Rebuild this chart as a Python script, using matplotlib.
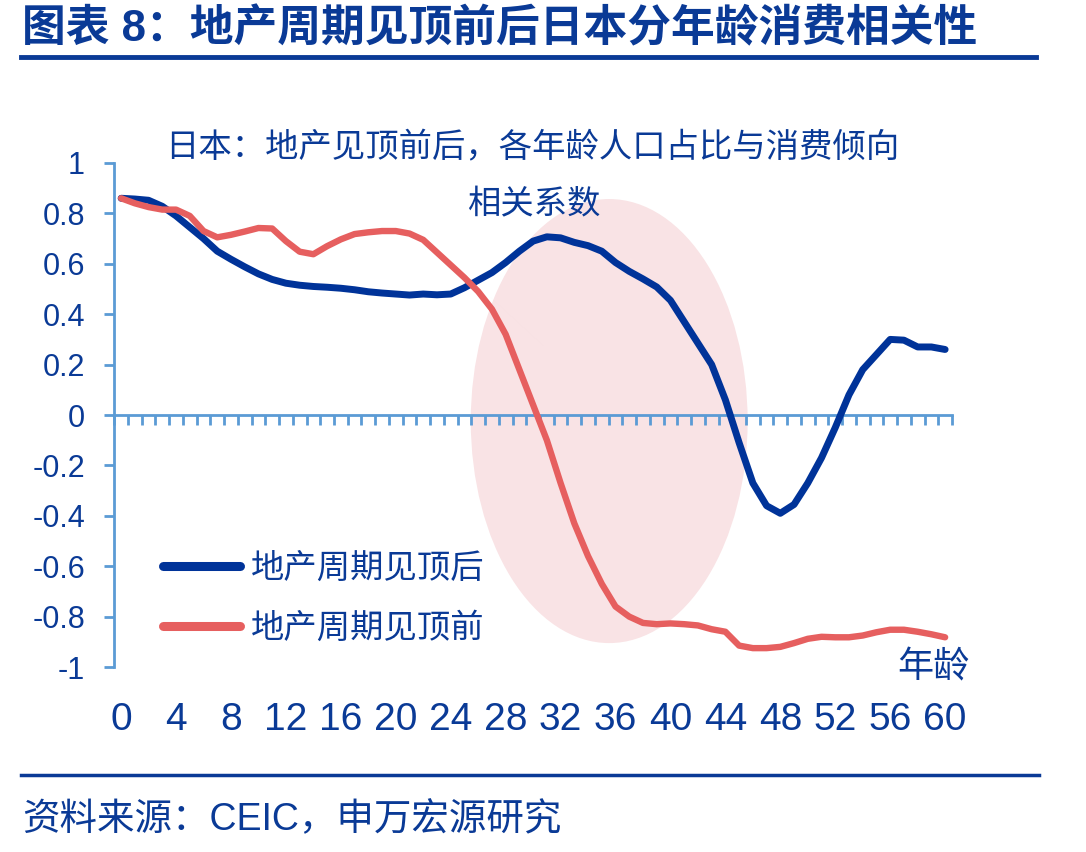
import numpy as np
import matplotlib
matplotlib.use("Agg")
import matplotlib.pyplot as plt
from matplotlib.patches import Ellipse
from matplotlib.lines import Line2D

plt.rcParams['font.family'] = ['Liberation Sans', 'Noto Sans CJK SC']

# ages 0..60
ages = np.arange(0, 61)

# 地产周期见顶后 (blue)
after_peak = [0.86, 0.857, 0.852, 0.828, 0.79, 0.745, 0.70, 0.65, 0.618, 0.588,
              0.56, 0.538, 0.523, 0.515, 0.51, 0.507, 0.503, 0.497, 0.489, 0.484,
              0.48, 0.476, 0.48, 0.477, 0.48, 0.505, 0.535, 0.565, 0.605, 0.65,
              0.69, 0.707, 0.703, 0.685, 0.672, 0.65, 0.605, 0.57, 0.54, 0.508,
              0.455, 0.37, 0.285, 0.20, 0.06, -0.11, -0.27, -0.36, -0.39, -0.355,
              -0.27, -0.17, -0.05, 0.08, 0.18, 0.24, 0.30, 0.297, 0.27, 0.27, 0.26]

# 地产周期见顶前 (red)
before_peak = [0.86, 0.84, 0.825, 0.815, 0.815, 0.79, 0.73, 0.705, 0.715, 0.728,
               0.742, 0.74, 0.69, 0.648, 0.638, 0.67, 0.697, 0.718, 0.725, 0.73,
               0.73, 0.72, 0.695, 0.645, 0.595, 0.545, 0.49, 0.42, 0.32, 0.18,
               0.04, -0.10, -0.27, -0.43, -0.56, -0.67, -0.76, -0.80, -0.825, -0.83,
               -0.827, -0.83, -0.835, -0.85, -0.86, -0.915, -0.925, -0.925, -0.92, -0.905,
               -0.888, -0.88, -0.882, -0.882, -0.875, -0.862, -0.852, -0.852, -0.86, -0.87, -0.882]

x_labels = ages[::4]
y_ticks = [-1, -0.8, -0.6, -0.4, -0.2, 0, 0.2, 0.4, 0.6, 0.8, 1]
y_labels = ['-1', '-0.8', '-0.6', '-0.4', '-0.2', '0', '0.2', '0.4', '0.6', '0.8', '1']

text_blue = '#0A3A96'
line_blue = '#003399'
line_red = '#E65F5F'
axis_blue = '#5B9BD5'

fig = plt.figure(figsize=(10.86, 8.52), dpi=100)
ax = fig.add_axes([0.1052, 0.2171, 0.7714, 0.5916])

# highlighted region
ell = Ellipse((35.54, -0.024), 20.16, 1.762, facecolor='#F9E3E5', edgecolor='none', zorder=1)
ax.add_patch(ell)

ax.plot(ages, after_peak, color=line_blue, lw=5, solid_capstyle='round',
        solid_joinstyle='round', zorder=3, label='地产周期见顶后')
ax.plot(ages, before_peak, color=line_red, lw=4.6, solid_capstyle='round',
        solid_joinstyle='round', zorder=3, label='地产周期见顶前')

ax.set_xlim(-0.5, 60.5)
ax.set_ylim(-1, 1)

for s in ['top', 'right']:
    ax.spines[s].set_visible(False)
ax.spines['left'].set_color(axis_blue)
ax.spines['left'].set_linewidth(2)
ax.spines['bottom'].set_position(('data', 0))
ax.spines['bottom'].set_color(axis_blue)
ax.spines['bottom'].set_linewidth(2)
ax.spines['bottom'].set_zorder(2)

ax.set_yticks(y_ticks)
ax.set_yticklabels(y_labels)
ax.tick_params(axis='y', direction='out', length=7, width=2, color=axis_blue,
               labelsize=22, labelcolor=text_blue, pad=14)

# minor ticks between categories on the zero line, no labels
ax.set_xticks([])
ax.set_xticks(np.arange(-0.5, 61, 1), minor=True)
ax.tick_params(axis='x', which='minor', direction='out', length=7, width=2, color=axis_blue)

# labels at the bottom of the plot area
sec = ax.secondary_xaxis('bottom')
sec.set_xticks(x_labels)
sec.set_xticklabels([str(a) for a in x_labels])
sec.spines['bottom'].set_visible(False)
sec.tick_params(length=0, labelsize=28, labelcolor=text_blue, pad=25)

leg = ax.legend(loc='upper left', bbox_to_anchor=(0.058, 0.226), frameon=False,
                fontsize=24, handlelength=2.3, handletextpad=0.35, labelspacing=0.87,
                borderpad=0, borderaxespad=0)
for t in leg.get_texts():
    t.set_color(text_blue)
for h in leg.get_lines():
    h.set_linewidth(6.5)

fig.text(0.152, 0.826, '日本：地产见顶前后，各年龄人口占比与消费倾向', fontsize=24,
         color=text_blue, va='center', ha='left')
fig.text(0.43, 0.759, '相关系数', fontsize=24, color=text_blue, va='center', ha='left')
fig.text(0.826, 0.216, '年龄', fontsize=26, color=text_blue, va='center', ha='left')

# title and rules
fig.text(0.02, 0.966, '图表 8：地产周期见顶前后日本分年龄消费相关性', fontsize=31.5,
         fontweight='black', color=text_blue, va='center', ha='left')
fig.add_artist(Line2D([0.019, 0.954], [0.933, 0.933], color='#0A3A96', lw=3.5))
fig.add_artist(Line2D([0.019, 0.957], [0.090, 0.090], color='#0A3A96', lw=2.5))
fig.text(0.02, 0.0376, '资料来源：CEIC，申万宏源研究', fontsize=27, color=text_blue,
         va='center', ha='left')

fig.savefig('out.png', dpi=100)
